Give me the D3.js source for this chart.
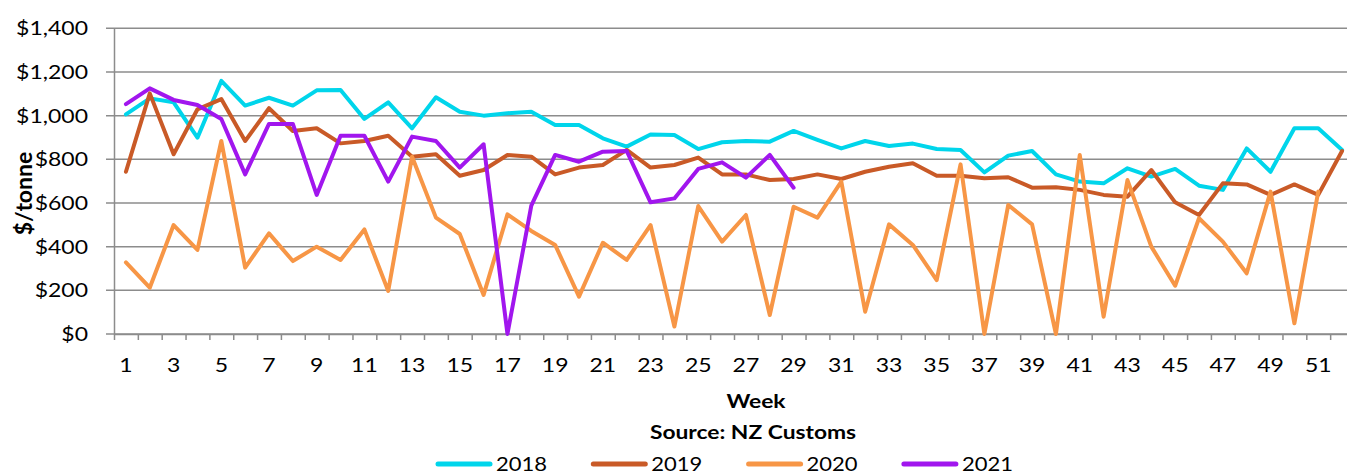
<!DOCTYPE html>
<html>
<head>
<meta charset="utf-8">
<script src="https://cdn.jsdelivr.net/npm/d3@7"></script>
<style>
  body { margin: 0; background: #fff; }
  svg { display: block; }
  text { font-family: Lato, "Open Sans", sans-serif; fill: #000; }
</style>
</head>
<body>
<script>
const weeks = [1,2,3,4,5,6,7,8,9,10,11,12,13,14,15,16,17,18,19,20,21,22,23,24,25,26,
  27,28,29,30,31,32,33,34,35,36,37,38,39,40,41,42,43,44,45,46,47,48,49,50,51,52];

const v2018 = [1006,1079,1061,899,1159,1046,1082,1046,1116,1117,
  985,1061,942,1084,1018,1000,1011,1018,957,957,
  896,858,914,911,847,878,884,881,930,889,
  850,884,861,872,847,843,740,817,838,731,
  698,690,759,721,756,679,660,850,743,942,
  942,843];
const v2019 = [743,1102,823,1029,1076,884,1034,930,942,873,
  884,908,812,823,725,751,820,812,731,762,
  774,843,762,774,808,731,731,705,710,731,
  710,743,766,782,725,725,713,718,670,672,
  660,637,629,751,603,545,690,685,637,685,
  637,838];
const v2020 = [328,212,499,385,884,304,461,334,400,339,
  479,197,812,533,458,179,548,472,408,171,
  418,339,499,34,586,423,545,87,583,533,
  698,102,502,408,247,777,0,591,502,0,
  820,79,705,400,221,530,423,278,652,49,
  652,null];
const v2021 = [1053,1125,1072,1049,985,731,962,962,637,908,
  908,698,904,884,762,869,0,588,820,789,
  835,838,603,621,756,786,716,820,670];

const seriesNames = ["2018", "2019", "2020", "2021"];
const seriesValues = [v2018, v2019, v2020, v2021];
const seriesColors = ["#00D5EB", "#C95A27", "#F79646", "#A116EE"];

const yTicks = [0, 200, 400, 600, 800, 1000, 1200, 1400];

const width = 1347, height = 475;
const plotLeft = 114, plotRight = 1354, plotTop = 28.3, plotBottom = 334;
const gridColor = "#8C8C8C";

const svg = d3.select("body").append("svg")
  .attr("width", width)
  .attr("height", height);

const x = d3.scaleBand().domain(weeks).range([plotLeft, plotRight]);
const xEdge = d3.scaleLinear().domain([0.5, 52.5]).range([plotLeft, plotRight]);
const y = d3.scaleLinear().domain([0, 1400]).range([plotBottom, plotTop]);

// horizontal gridlines, poking a little past the axis like Excel's tick marks
svg.append("g")
  .selectAll("line")
  .data(yTicks)
  .join("line")
  .attr("x1", plotLeft - 8)
  .attr("x2", plotRight)
  .attr("y1", d => y(d))
  .attr("y2", d => y(d))
  .attr("stroke", gridColor)
  .attr("stroke-width", 1.5);

// y axis
const yAxis = svg.append("g")
  .attr("transform", `translate(${plotLeft},0)`)
  .call(d3.axisLeft(y)
    .tickValues(yTicks)
    .tickSize(0)
    .tickPadding(22.6)
    .tickFormat(d => "$" + d3.format(",")(d)));
yAxis.select(".domain").attr("stroke", gridColor).attr("stroke-width", 1.5);
yAxis.selectAll("text")
  .attr("font-family", "Lato, sans-serif")
  .attr("font-size", 20)
  .attr("transform", "scale(1.15,1)");

// x axis tick marks between categories
const xTickAxis = svg.append("g")
  .attr("transform", `translate(0,${plotBottom})`)
  .call(d3.axisBottom(xEdge)
    .tickValues(d3.range(0.5, 53, 1))
    .tickSize(6)
    .tickSizeOuter(0)
    .tickFormat(""));
xTickAxis.select(".domain").attr("stroke", gridColor).attr("stroke-width", 1.5);
xTickAxis.selectAll(".tick line").attr("stroke", gridColor).attr("stroke-width", 1.5);

// x axis labels, every other week
const xAxis = svg.append("g")
  .attr("transform", `translate(0,${plotBottom})`)
  .call(d3.axisBottom(x)
    .tickSize(0)
    .tickFormat(d => (d % 2 === 1 ? d : "")));
xAxis.select(".domain").remove();
xAxis.selectAll("text")
  .attr("y", 38)
  .attr("dy", null)
  .attr("font-family", "Lato, sans-serif")
  .attr("font-size", 20)
  .attr("transform", "scale(1.15,1)");

// the lines
const line = d3.line()
  .defined(d => d != null)
  .x((d, i) => x(weeks[i]) + x.bandwidth() / 2)
  .y(d => y(d));

svg.append("g")
  .selectAll("path")
  .data(seriesValues)
  .join("path")
  .attr("d", line)
  .attr("fill", "none")
  .attr("stroke", (d, i) => seriesColors[i])
  .attr("stroke-width", 4)
  .attr("stroke-linejoin", "round")
  .attr("stroke-linecap", "round");

// axis titles
svg.append("text")
  .attr("transform", "translate(32,193.5) rotate(-90)")
  .attr("text-anchor", "middle")
  .attr("font-weight", "bold")
  .attr("font-size", 23)
  .text("$/tonne");

svg.append("text")
  .attr("transform", "translate(756,408) scale(1.2,1)")
  .attr("text-anchor", "middle")
  .attr("font-weight", "bold")
  .attr("font-size", 19)
  .text("Week");

svg.append("text")
  .attr("transform", "translate(753,439) scale(1.2,1)")
  .attr("text-anchor", "middle")
  .attr("font-weight", "bold")
  .attr("font-size", 19)
  .text("Source: NZ Customs");

// legend
const legend = svg.append("g")
  .selectAll("g")
  .data(seriesNames)
  .join("g")
  .attr("transform", (d, i) => `translate(${436 + i * 155.3},464)`);

legend.append("line")
  .attr("x1", 2)
  .attr("x2", 54)
  .attr("stroke", (d, i) => seriesColors[i])
  .attr("stroke-width", 5)
  .attr("stroke-linecap", "round");

legend.append("text")
  .attr("transform", "translate(60,7) scale(1.1,1)")
  .attr("font-size", 20)
  .text(d => d);
</script>
</body>
</html>
